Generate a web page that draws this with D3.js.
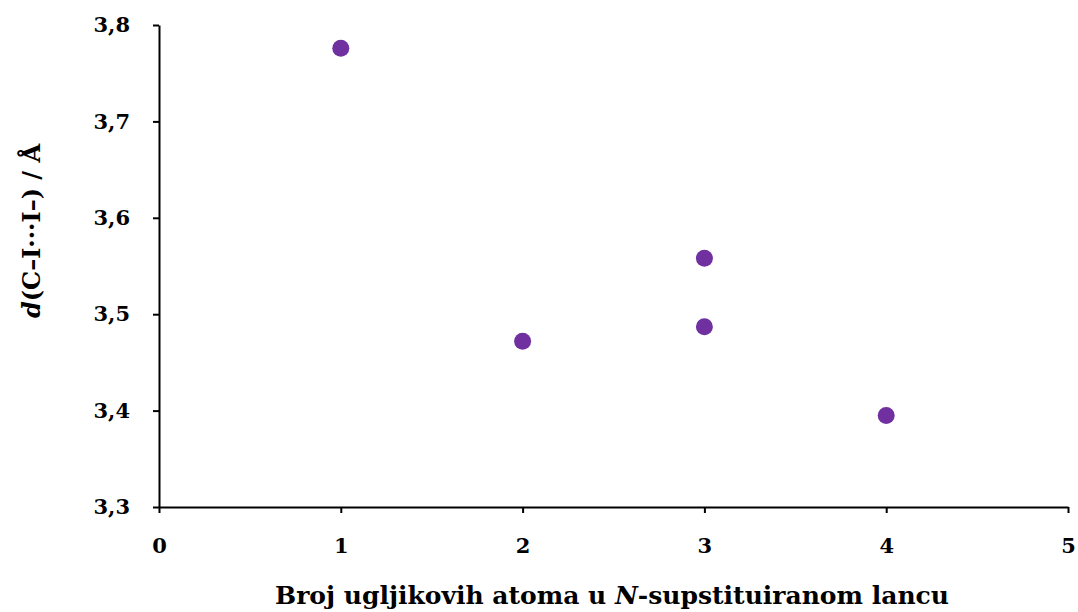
<!DOCTYPE html>
<html><head><meta charset="utf-8">
<script src="https://cdn.jsdelivr.net/npm/d3@7"></script>
<style>body{margin:0;background:#fff}</style>
</head><body>
<svg id="c" width="1078" height="612"></svg>
<script>
const xValues = [1, 2, 3, 3, 4];
const yValues = [3.776, 3.472, 3.558, 3.487, 3.395];
const xTicks = [0, 1, 2, 3, 4, 5];
const yTicks = [3.3, 3.4, 3.5, 3.6, 3.7, 3.8];

const svg = d3.select("#c");
const font = "'DejaVu Serif', serif";
const x = d3.scaleLinear().domain([0, 5]).range([159, 1068]);
const y = d3.scaleLinear().domain([3.3, 3.8]).range([507, 25]);
const fmt = d => d3.format(".1f")(d).replace(".", ",");

const gx = svg.append("g").attr("transform", "translate(0,507)")
  .call(d3.axisBottom(x).tickValues(xTicks).tickSize(6).tickSizeOuter(0).tickPadding(25).tickFormat(d3.format("d")));
const gy = svg.append("g").attr("transform", "translate(159,0)")
  .call(d3.axisLeft(y).tickValues(yTicks).tickSize(6).tickSizeOuter(0).tickPadding(28).tickFormat(fmt));
[gx, gy].forEach(g => {
  g.select(".domain").attr("stroke", "#000").attr("stroke-width", 2);
  g.selectAll(".tick line").attr("stroke", "#000").attr("stroke-width", 2);
  g.selectAll(".tick text").attr("fill", "#000").style("font-family", font)
    .style("font-weight", "bold").style("font-size", "21px");
});
gy.selectAll(".tick text").attr("x", -29);

svg.append("g").selectAll("circle").data(xValues).join("circle")
  .attr("cx", (d, i) => x(d)).attr("cy", (d, i) => y(yValues[i]))
  .attr("r", 8.5).attr("fill", "#7030A0");

const xl = svg.append("text").attr("x", 612).attr("y", 604).attr("text-anchor", "middle")
  .style("font-family", font).style("font-weight", "bold").style("font-size", "25px").attr("fill", "#000");
xl.append("tspan").text("Broj ugljikovih atoma u ");
xl.append("tspan").style("font-style", "italic").text("N");
xl.append("tspan").text("-supstituiranom lancu");

const yl = svg.append("text").attr("transform", "translate(40,231) rotate(-90)").attr("text-anchor", "middle")
  .style("font-family", font).style("font-weight", "bold").style("font-size", "24px").attr("fill", "#000");
yl.append("tspan").style("font-style", "italic").text("d");
yl.append("tspan").text("(C–I···I–) / Å");
</script>
</body></html>
